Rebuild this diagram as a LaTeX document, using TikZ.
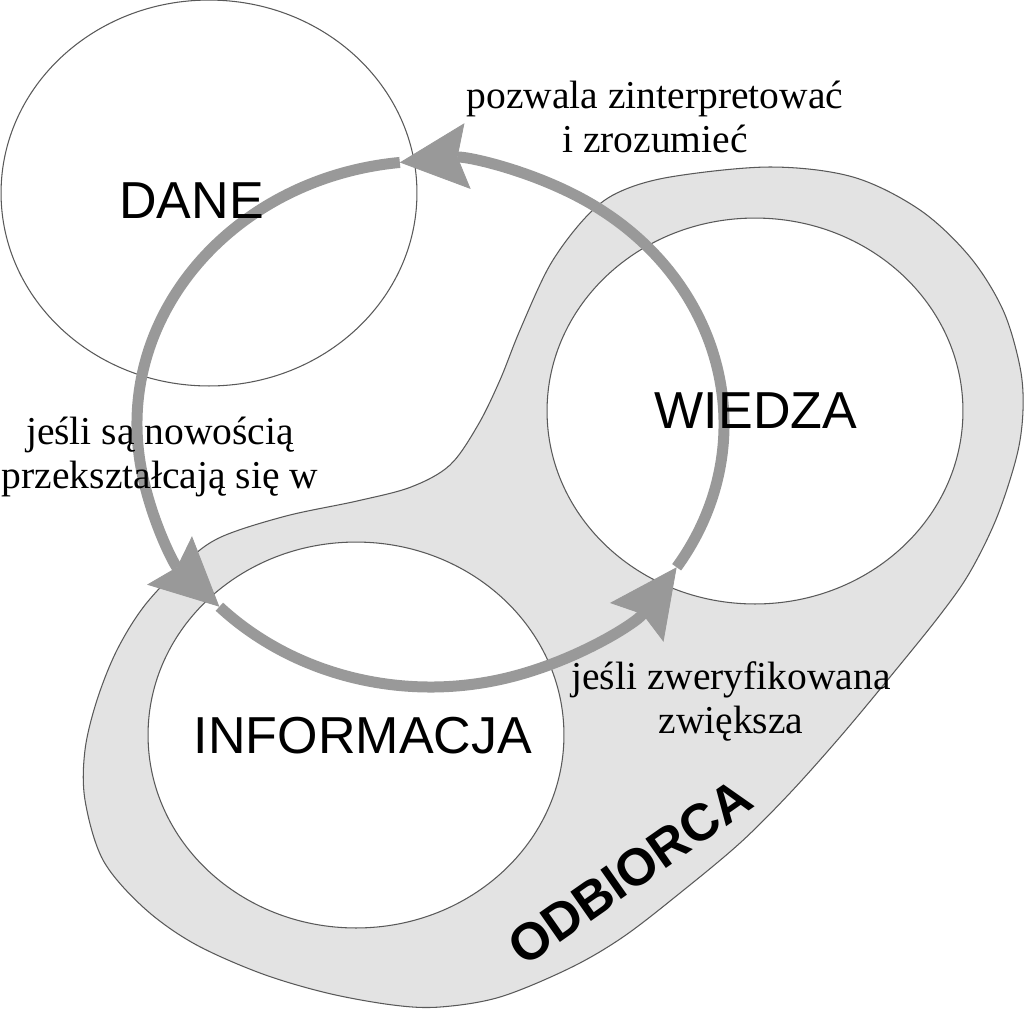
\documentclass[tikz,border=0pt]{standalone}
\usepackage{fontspec}
\setmainfont{Liberation Serif}
\setsansfont{Liberation Sans}
\usepackage{tikz}
\usetikzlibrary{positioning, arrows.meta, shapes.geometric, calc}

\begin{document}
\begin{tikzpicture}[
        x=0.02cm, y=0.02cm,
        circ/.style={ellipse, draw=black!65, line width=0.6pt, fill=white, minimum width=8.32cm, minimum height=7.72cm, inner sep=0pt},
        blob/.style={draw=black!65, line width=0.6pt, fill=black!11},
        ring/.style={line width=0.22cm, draw=black!40, -{Stealth[length=1.36cm, width=1.32cm, inset=0.2cm, line width=0.5pt]}},
        lbl/.style={font=\sffamily\fontsize{29.6}{34}\selectfont, inner sep=0pt},
        note/.style={font=\fontsize{22.5}{24.5}\selectfont, align=center, inner sep=0pt},
    ]
    \useasboundingbox (0,0) rectangle (1024,-1009);

    % ---- ODBIORCA area ----
    \draw[blob] plot[smooth cycle, tension=0.55] coordinates {
        (770,-167) (853,-177) (920,-210) (970,-257) (1003,-310) (1020,-367)
        (1023,-410) (1017,-455) (997,-517) (970,-572) (940,-615) (890,-677)
        (840,-737) (790,-793) (740,-843) (680,-893) (623,-937) (570,-968)
        (500,-997) (440,-1007) (393,-1005) (327,-993) (260,-973) (193,-943)
        (143,-907) (103,-860) (85,-800) (85,-750) (97,-700) (117,-650)
        (145,-605) (186,-562) (221,-537) (286,-516) (357,-501) (411,-487)
        (450,-465) (478,-425) (500,-380) (520,-330) (550,-265) (585,-218)
        (617,-193) (670,-177)};

    % ---- Circles ----
    \node[circ] (dane) at (209,-193) {};
    \node[circ] (wiedza) at (755,-411) {};
    \node[circ] (info) at (356,-735) {};

    % ---- Cycle ----
    \coordinate (rc) at (430.5,-424);
    \coordinate (tD) at ($(rc)+(96:293.5 and 263)$);
    \coordinate (tI) at ($(rc)+(224:293.5 and 263)$);
    \coordinate (tW) at ($(rc)+(327:293.5 and 263)$);
    \draw[ring] (tD) arc[start angle=96, end angle=224, x radius=293.5, y radius=263];
    \draw[ring] (tI) arc[start angle=224, end angle=327, x radius=293.5, y radius=263];
    \draw[ring] (tW) arc[start angle=-33, end angle=96, x radius=293.5, y radius=263];

    % ---- Labels ----
    \node[lbl, anchor=base] (daneT) at (191.5,-218) {DANE};
    \node[lbl, anchor=base] (wiedzaT) at (756,-428) {WIEDZA};
    \node[lbl, anchor=base] (infoT) at (363,-753) {INFORMACJA};
    \node[lbl, font=\sffamily\bfseries\fontsize{29.6}{34}\selectfont, rotate=35] (odb) at (630,-872) {ODBIORCA};

    \node[note, anchor=base] (n1) at (655,-152) {pozwala zinterpretować\\i zrozumieć};
    \node[note, anchor=base] (n2) at (160,-488) {jeśli są nowością\\przekształcają się w};
    \node[note, anchor=base] (n3) at (731,-733) {jeśli zweryfikowana\\zwiększa};
\end{tikzpicture}
\end{document}
